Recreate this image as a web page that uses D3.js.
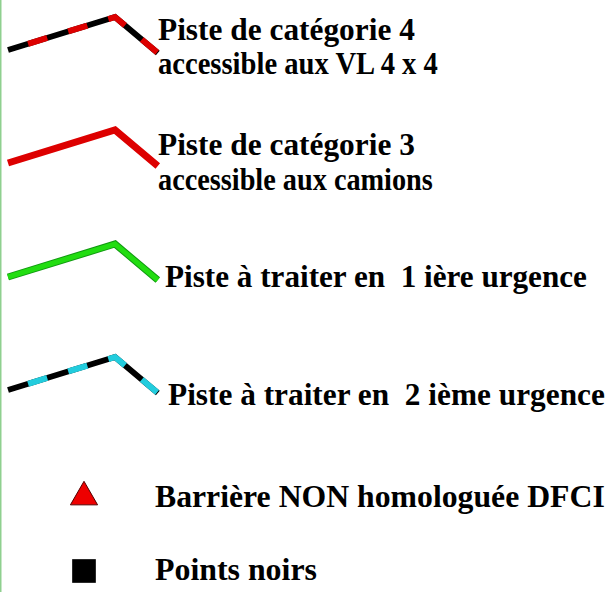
<!DOCTYPE html>
<html><head><meta charset="utf-8">
<script src="https://cdn.jsdelivr.net/npm/d3@7"></script>
<style>body{margin:0;background:#fff;}</style>
</head><body>
<script>
// Legend data
const lineLabels = [
  ["Piste de catégorie 4", "accessible aux VL 4 x 4"],
  ["Piste de catégorie 3", "accessible aux camions"],
  ["Piste à traiter en\u00a0 1 ière urgence"],
  ["Piste à traiter en\u00a0 2 ième urgence"]
];
const lineColors = ["#dd0000", "#dd0000", "#22dd11", "#22ccdd"];
const lineStyles = ["dashed", "solid", "outlined", "dashed"];
const symbolLabels = ["Barrière NON homologuée DFCI", "Points noirs"];
const symbolTypes = ["triangle", "square"];
const symbolColors = ["#ee0000", "#000000"];

const W = 614, H = 592;
const svg = d3.select("body").append("svg").attr("width", W).attr("height", H);

svg.append("line").attr("x1", 0.75).attr("x2", 0.75).attr("y1", 0).attr("y2", H)
  .attr("stroke", "#8fd08f").attr("stroke-width", 1.5);

// template polyline in unit coords
const tmpl = [[0, 0], [1, 1], [1.4, -0.09]];
const tx = d3.scaleLinear().domain([0, 1]).range([8, 115]);
const ty = d3.scaleLinear().domain([0, 1]).range([0, -33]);
const rowY = [50, 163, 277, 390];
const textX = [158, 158, 165, 168];
const baselines = [[40, 74], [155, 190], [287], [405]];
const widths = [[257, 280], [257, 275], [422], [437]];

const line = d3.line().x(d => tx(d[0])).y(d => ty(d[1]));

function fitText(x, y, str, w) {
  const t = svg.append("text").attr("x", 0).attr("y", 0)
    .attr("font-family", "Liberation Serif, serif").attr("font-weight", "bold").attr("font-size", 31)
    .attr("fill", "#000").text(str);
  const len = t.node().getComputedTextLength();
  const k = len > 0 ? w / len : 1;
  t.attr("transform", `translate(${x},${y}) scale(${k},1)`);
}

lineLabels.forEach((lab, i) => {
  const g = svg.append("g").attr("transform", `translate(0,${rowY[i]})`);
  const d = line(tmpl);
  const st = lineStyles[i];
  if (st === "dashed") {
    g.append("path").attr("d", d).attr("fill", "none").attr("stroke", "#000").attr("stroke-width", 6);
    g.append("path").attr("d", d).attr("fill", "none").attr("stroke", lineColors[i]).attr("stroke-width", 6)
      .attr("stroke-dasharray", "20 22").attr("stroke-dashoffset", 21);
  } else if (st === "outlined") {
    g.append("path").attr("d", d).attr("fill", "none").attr("stroke", "#119911").attr("stroke-width", 7);
    g.append("path").attr("d", d).attr("fill", "none").attr("stroke", lineColors[i]).attr("stroke-width", 5);
  } else {
    g.append("path").attr("d", d).attr("fill", "none").attr("stroke", lineColors[i]).attr("stroke-width", 7);
  }
  lab.forEach((t, j) => fitText(textX[i], baselines[i][j], t, widths[i][j]));
});

const symY = [497, 571];
const symX = 84;
const symBase = [507, 580];
const symW = [450, 162];
symbolTypes.forEach((s, i) => {
  const sym = d3.symbol().type(s === "triangle" ? d3.symbolTriangle : d3.symbolSquare)
    .size(s === "triangle" ? 320 : 560);
  svg.append("path").attr("d", sym())
    .attr("transform", `translate(${symX},${symY[i]})`)
    .attr("fill", symbolColors[i]).attr("stroke", s === "triangle" ? "#550000" : "none").attr("stroke-width", 1);
  fitText(155, symBase[i], symbolLabels[i], symW[i]);
});
</script>
</body></html>
